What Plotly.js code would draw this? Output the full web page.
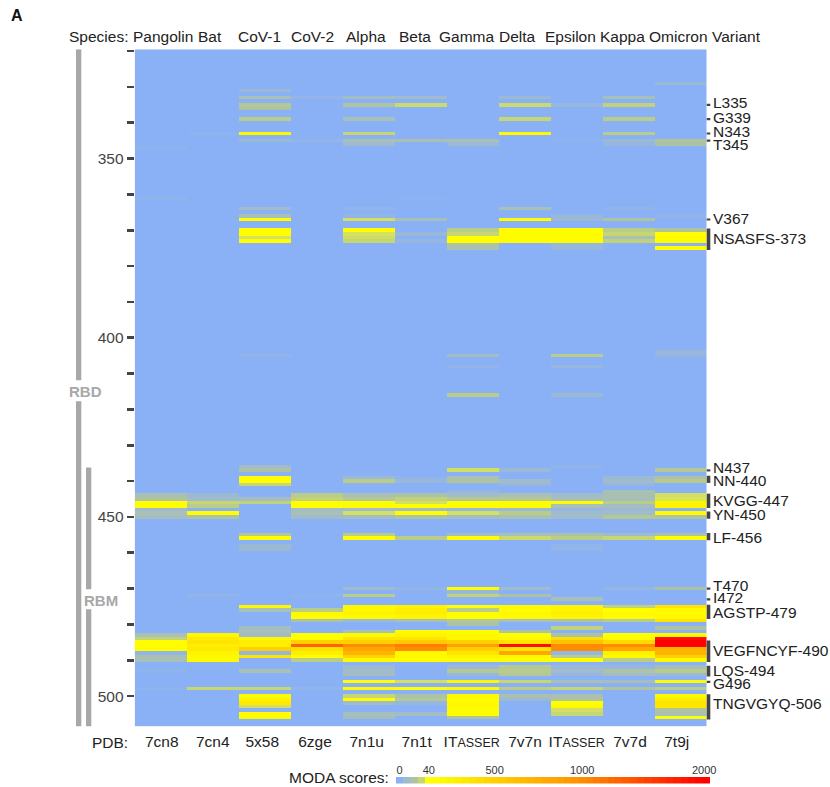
<!DOCTYPE html>
<html><head><meta charset="utf-8">
<script src="https://cdn.plot.ly/plotly-3.0.1.min.js"></script>
<style>html,body{margin:0;padding:0;background:#fff}#c{width:830px;height:787px}</style>
</head><body><div id="c"></div>
<script>
const species = ["Pangolin","Bat","CoV-1","CoV-2","Alpha","Beta","Gamma","Delta","Epsilon","Kappa","Omicron"];
const pdb = ["7cn8","7cn4","5x58","6zge","7n1u","7n1t","IT<span style='font-size:12.5px'>ASSER</span>","7v7n","IT<span style='font-size:12.5px'>ASSER</span>","7v7d","7t9j"];
const firstResidue = 320, lastResidue = 508;

// [residue, MODA score] for every non-background row
const s7cn8 = [[347,2],[361,2],[444,15],[445,20],[446,50],[447,60],[448,10],[449,15],[450,12],[483,15],[484,28],[485,60],[486,55],[487,70],[488,4],[489,16],[490,14],[493,2],[498,2]];
const s7cn4 = [[343,2],[444,8],[445,10],[446,30],[447,25],[449,60],[450,18],[472,3],[483,120],[484,250],[485,300],[486,200],[487,250],[488,150],[489,100],[490,100],[498,30]];
const s5x58 = [[331,8],[333,15],[335,22],[336,20],[339,25],[343,100],[345,8],[364,10],[366,15],[367,50],[370,60],[371,50],[372,36],[373,60],[405,3],[436,10],[437,18],[439,60],[440,60],[441,30],[445,12],[446,28],[455,22],[456,60],[458,8],[459,8],[475,100],[476,15],[481,12],[482,15],[483,10],[484,120],[485,200],[486,180],[487,500],[488,5],[489,300],[493,15],[498,30],[500,80],[501,150],[502,250],[503,35],[505,60],[506,100]];
const s6zge = [[333,4],[345,3],[444,25],[445,28],[446,60],[447,60],[448,12],[449,15],[450,10],[472,2],[476,25],[477,100],[478,80],[479,18],[483,50],[484,60],[485,500],[486,1300],[487,350],[488,200],[489,60],[490,25],[498,3]];
const s7n1u = [[333,12],[335,20],[339,15],[343,30],[345,15],[346,10],[364,3],[366,4],[367,35],[370,60],[371,36],[372,34],[373,30],[439,8],[440,25],[444,15],[445,22],[446,45],[447,70],[448,10],[449,35],[450,12],[455,25],[456,80],[470,10],[472,25],[475,100],[476,120],[477,150],[478,100],[479,8],[482,15],[483,90],[484,300],[485,500],[486,1000],[487,800],[488,700],[489,450],[490,100],[492,8],[493,10],[494,12],[496,60],[498,80],[500,30],[501,80],[502,10],[505,14],[506,12]];
const s7n1t = [[333,10],[335,32],[345,16],[361,1],[367,14],[371,7],[373,5],[439,2],[440,6],[444,18],[445,28],[446,35],[447,50],[448,12],[449,60],[450,18],[456,25],[470,4],[475,150],[476,200],[477,200],[478,150],[479,15],[482,90],[483,150],[484,300],[485,550],[486,1100],[487,1000],[488,100],[489,100],[490,70],[496,35],[498,60],[500,18],[501,22],[502,5],[505,12]];
const sGamma = [[345,15],[346,8],[370,25],[371,30],[372,60],[373,60],[374,20],[375,15],[405,12],[408,3],[416,25],[437,35],[439,15],[440,20],[443,6],[444,10],[445,22],[446,60],[447,60],[448,6],[449,35],[450,12],[455,12],[456,70],[470,50],[471,8],[472,28],[475,50],[476,25],[477,70],[478,60],[479,22],[480,18],[482,70],[483,100],[484,120],[485,500],[486,850],[487,500],[488,300],[489,150],[490,70],[492,8],[493,22],[494,6],[496,120],[498,100],[500,100],[501,80],[502,100],[503,100],[504,80],[505,70],[506,20]];
const s7v7n = [[333,8],[335,32],[339,30],[343,90],[364,15],[367,50],[370,70],[371,70],[372,70],[373,70],[437,8],[440,10],[441,6],[444,15],[445,22],[446,70],[447,70],[448,8],[449,25],[450,15],[455,15],[456,32],[470,10],[472,18],[475,90],[476,70],[477,100],[478,90],[479,15],[482,20],[483,50],[484,100],[485,300],[486,1900],[487,300],[488,800],[489,100],[490,70],[492,22],[493,24],[494,22],[496,30],[498,25],[500,16],[501,8]];
const sEpsilon = [[335,6],[345,2],[366,6],[367,8],[370,70],[371,70],[372,70],[373,70],[374,6],[375,6],[405,25],[408,6],[416,8],[436,3],[444,10],[445,14],[446,80],[447,15],[448,5],[449,10],[450,10],[455,18],[456,25],[458,3],[459,3],[473,15],[475,150],[476,150],[477,200],[478,150],[479,20],[481,28],[483,18],[484,350],[485,600],[486,1000],[487,1000],[488,5],[489,25],[490,70],[492,6],[493,10],[494,5],[496,15],[498,30],[500,16],[501,20],[502,60],[503,100],[504,35],[505,30]];
const s7v7d = [[333,14],[335,28],[339,25],[343,25],[345,8],[346,5],[364,3],[367,20],[370,25],[371,30],[372,15],[373,28],[439,8],[440,10],[441,6],[443,15],[444,16],[445,14],[446,25],[447,12],[448,8],[449,10],[450,22],[455,10],[456,30],[470,5],[475,28],[476,60],[477,90],[478,70],[479,25],[483,40],[484,70],[485,400],[486,1000],[487,800],[488,180],[489,100],[490,25],[492,5],[493,20],[494,10],[496,14],[498,20]];
const s7t9j = [[329,8],[345,20],[346,18],[366,3],[370,20],[371,60],[372,80],[373,70],[375,60],[404,6],[405,5],[437,22],[439,18],[440,24],[444,35],[445,38],[446,150],[447,150],[449,90],[450,20],[455,18],[456,80],[470,18],[475,300],[476,90],[477,80],[478,100],[479,300],[481,18],[483,90],[484,1900],[485,2000],[486,2000],[487,700],[488,700],[489,500],[490,100],[492,12],[493,25],[494,8],[496,90],[498,25],[500,100],[501,200],[502,300],[503,300],[504,20],[505,16],[506,60]];
const columns = [s7cn8,s7cn4,s5x58,s6zge,s7n1u,s7n1t,sGamma,s7v7n,sEpsilon,s7v7d,s7t9j];

const yTickVals = [320,330,340,350,360,370,380,390,400,410,420,430,440,450,460,470,480,490,500];
const yTickLabels = {350:"350",400:"400",450:"450",500:"500"};

const variantNames = ["L335","G339","N343","T345","V367","NSASFS-373","N437","NN-440","KVGG-447","YN-450","LF-456","T470","I472","AGSTP-479","VEGFNCYF-490","LQS-494","G496","TNGVGYQ-506"];
const variantFrom  = [335,339,343,345,367,370,437,439,444,449,455,470,473,475,485,492,496,500];
const variantTo    = [335,339,343,345,367,375,437,440,447,450,456,470,473,478,490,494,496,506];
const variantTextY = [334.4,338.6,342.3,346,366.7,372.2,436.2,439.7,445.3,449.2,455.6,469,472.4,476.6,487.2,492.8,496.4,502];

const scoreStops = [0,10,20,30,39,40,500,1000,2000];
const stopColors = ["#8AB1F6","#A0BBCB","#AFC49E","#C5D672","#DDE655","#FFFF00","#FFCF00","#FF8C00","#FF0000"];
const legendRamp = [0,10,20,30,40,60,100,150,200,260,320,380,440,500,540,580,620,660,700,740,780,820,860,900,950,1000,1060,1120,1180,1240,1300,1360,1420,1480,1540,1600,1660,1720,1780,1840,1900,1960,2000];
const legendTickPos = [0,4,13,25,41.7];
const legendTickText = ["0","40","500","1000","2000"];

const headers = [["Species:",98],["Pangolin",162.5],["Bat",209.5],["CoV-1",259.5],["CoV-2",312],["Alpha",365.5],["Beta",414.5],["Gamma",467],["Delta",517],["Epsilon",570],["Kappa",622],["Omicron",678],["Variant",736.5]];
const pdbLabelCentres = [161.7,212.7,262.3,315,366.7,416.7,471.7,525,576.7,630,676.7];

const W=830,H=787, FONT="'Liberation Sans', Arial, sans-serif", TXT="#222";
const px=x=>x/W, py=y=>1-y/H;
const residues=[]; for(let r=firstResidue;r<=lastResidue;r++) residues.push(r);
const z=residues.map(()=>columns.map(()=>0));
columns.forEach((c,i)=>c.forEach(([r,v])=>{z[r-firstResidue][i]=v;}));
const colorscale=scoreStops.map((s,i)=>[s/2000,stopColors[i]]);

const traces=[
 {type:"heatmap",z:z,x:pdb.map((_,i)=>i),y:residues,zmin:0,zmax:2000,colorscale:colorscale,showscale:false,hoverinfo:"skip",xaxis:"x",yaxis:"y"},
 {type:"heatmap",z:[legendRamp],x:legendRamp.map((_,i)=>i),y:[0],zmin:0,zmax:2000,colorscale:colorscale,showscale:false,hoverinfo:"skip",xaxis:"x2",yaxis:"y2"}
];

const annotations=headers.map(([t,x])=>({text:t,xref:"paper",yref:"paper",x:px(x),y:py(37),xanchor:"center",yanchor:"middle",showarrow:false,font:{size:15.5,color:TXT}}));
const note=(t,x,y,size,color,bold)=>({text:bold?"<b>"+t+"</b>":t,xref:"paper",yref:"paper",x:px(x),y:py(y),xanchor:"center",yanchor:"middle",showarrow:false,font:{size:size,color:color}});
annotations.push(note("A",17,15,16,"#111",true),note("PDB:",110,742,15.5,TXT),note("MODA scores:",339,777,15.5,TXT),note("RBD",85,391,15,"#A8A8A8",true),note("RBM",101,600,15,"#A8A8A8",true));
variantNames.forEach((n,i)=>annotations.push({text:n,xref:"paper",yref:"y",x:px(711),y:variantTextY[i],xanchor:"left",yanchor:"middle",showarrow:false,font:{size:15.5,color:TXT}}));

const shapes=[];
variantNames.forEach((n,i)=>{
  const single=variantFrom[i]===variantTo[i];
  const pad=single?0.3:0.5;
  shapes.push({type:"rect",layer:"above",xref:"paper",yref:"y",x0:px(706.7),x1:px(710.3),y0:variantFrom[i]-pad,y1:variantTo[i]+pad,fillcolor:"#444",line:{width:0}});
});
const pxToRes=y=>350+(y-158.5)/3.583;
const bar=(x0,x1,r0,r1)=>({type:"rect",xref:"paper",yref:"y",x0:px(x0),x1:px(x1),y0:r0,y1:r1,fillcolor:"#A8A8A8",line:{width:0}});
shapes.push(bar(76,81.3,319.5,pxToRes(380)),bar(76,81.3,pxToRes(401),508.5)); // RBD
shapes.push(bar(86,91.3,436.2,pxToRes(589)),bar(86,91.3,pxToRes(609),508.5)); // RBM

const layout={
 width:W,height:H,margin:{l:0,r:0,t:0,b:0},paper_bgcolor:"#fff",plot_bgcolor:"#fff",
 font:{family:FONT,color:TXT},showlegend:false,
 xaxis:{domain:[px(134.7),px(706.7)],anchor:"y",range:[-0.5,10.5],tickvals:pdbLabelCentres.map(c=>(c-134.7)/52-0.5),ticktext:pdb,ticks:"",showgrid:false,zeroline:false,showline:false,tickfont:{size:15.5,color:TXT},tickangle:0,ticklabelstandoff:4},
 yaxis:{domain:[py(726.6),py(49.3)],anchor:"x",range:[508.5,319.5],tickvals:yTickVals,ticktext:yTickVals.map(v=>yTickLabels[v]||""),ticks:"outside",ticklen:7,tickwidth:2.6,tickcolor:"#444",showgrid:false,zeroline:false,showline:false,tickfont:{size:15.5,color:"#444"}},
 xaxis2:{domain:[px(396),px(710)],anchor:"y2",side:"top",range:[-0.5,42.5],tickvals:legendTickPos,ticktext:legendTickText,ticks:"",showgrid:false,zeroline:false,showline:false,tickfont:{size:11,color:"#333"},tickangle:0},
 yaxis2:{domain:[py(783.5),py(777)],anchor:"x2",range:[-0.5,0.5],showticklabels:false,ticks:"",showgrid:false,zeroline:false,showline:false},
 annotations:annotations,shapes:shapes
};
Plotly.newPlot("c",traces,layout,{displayModeBar:false,staticPlot:true});
</script></body></html>
